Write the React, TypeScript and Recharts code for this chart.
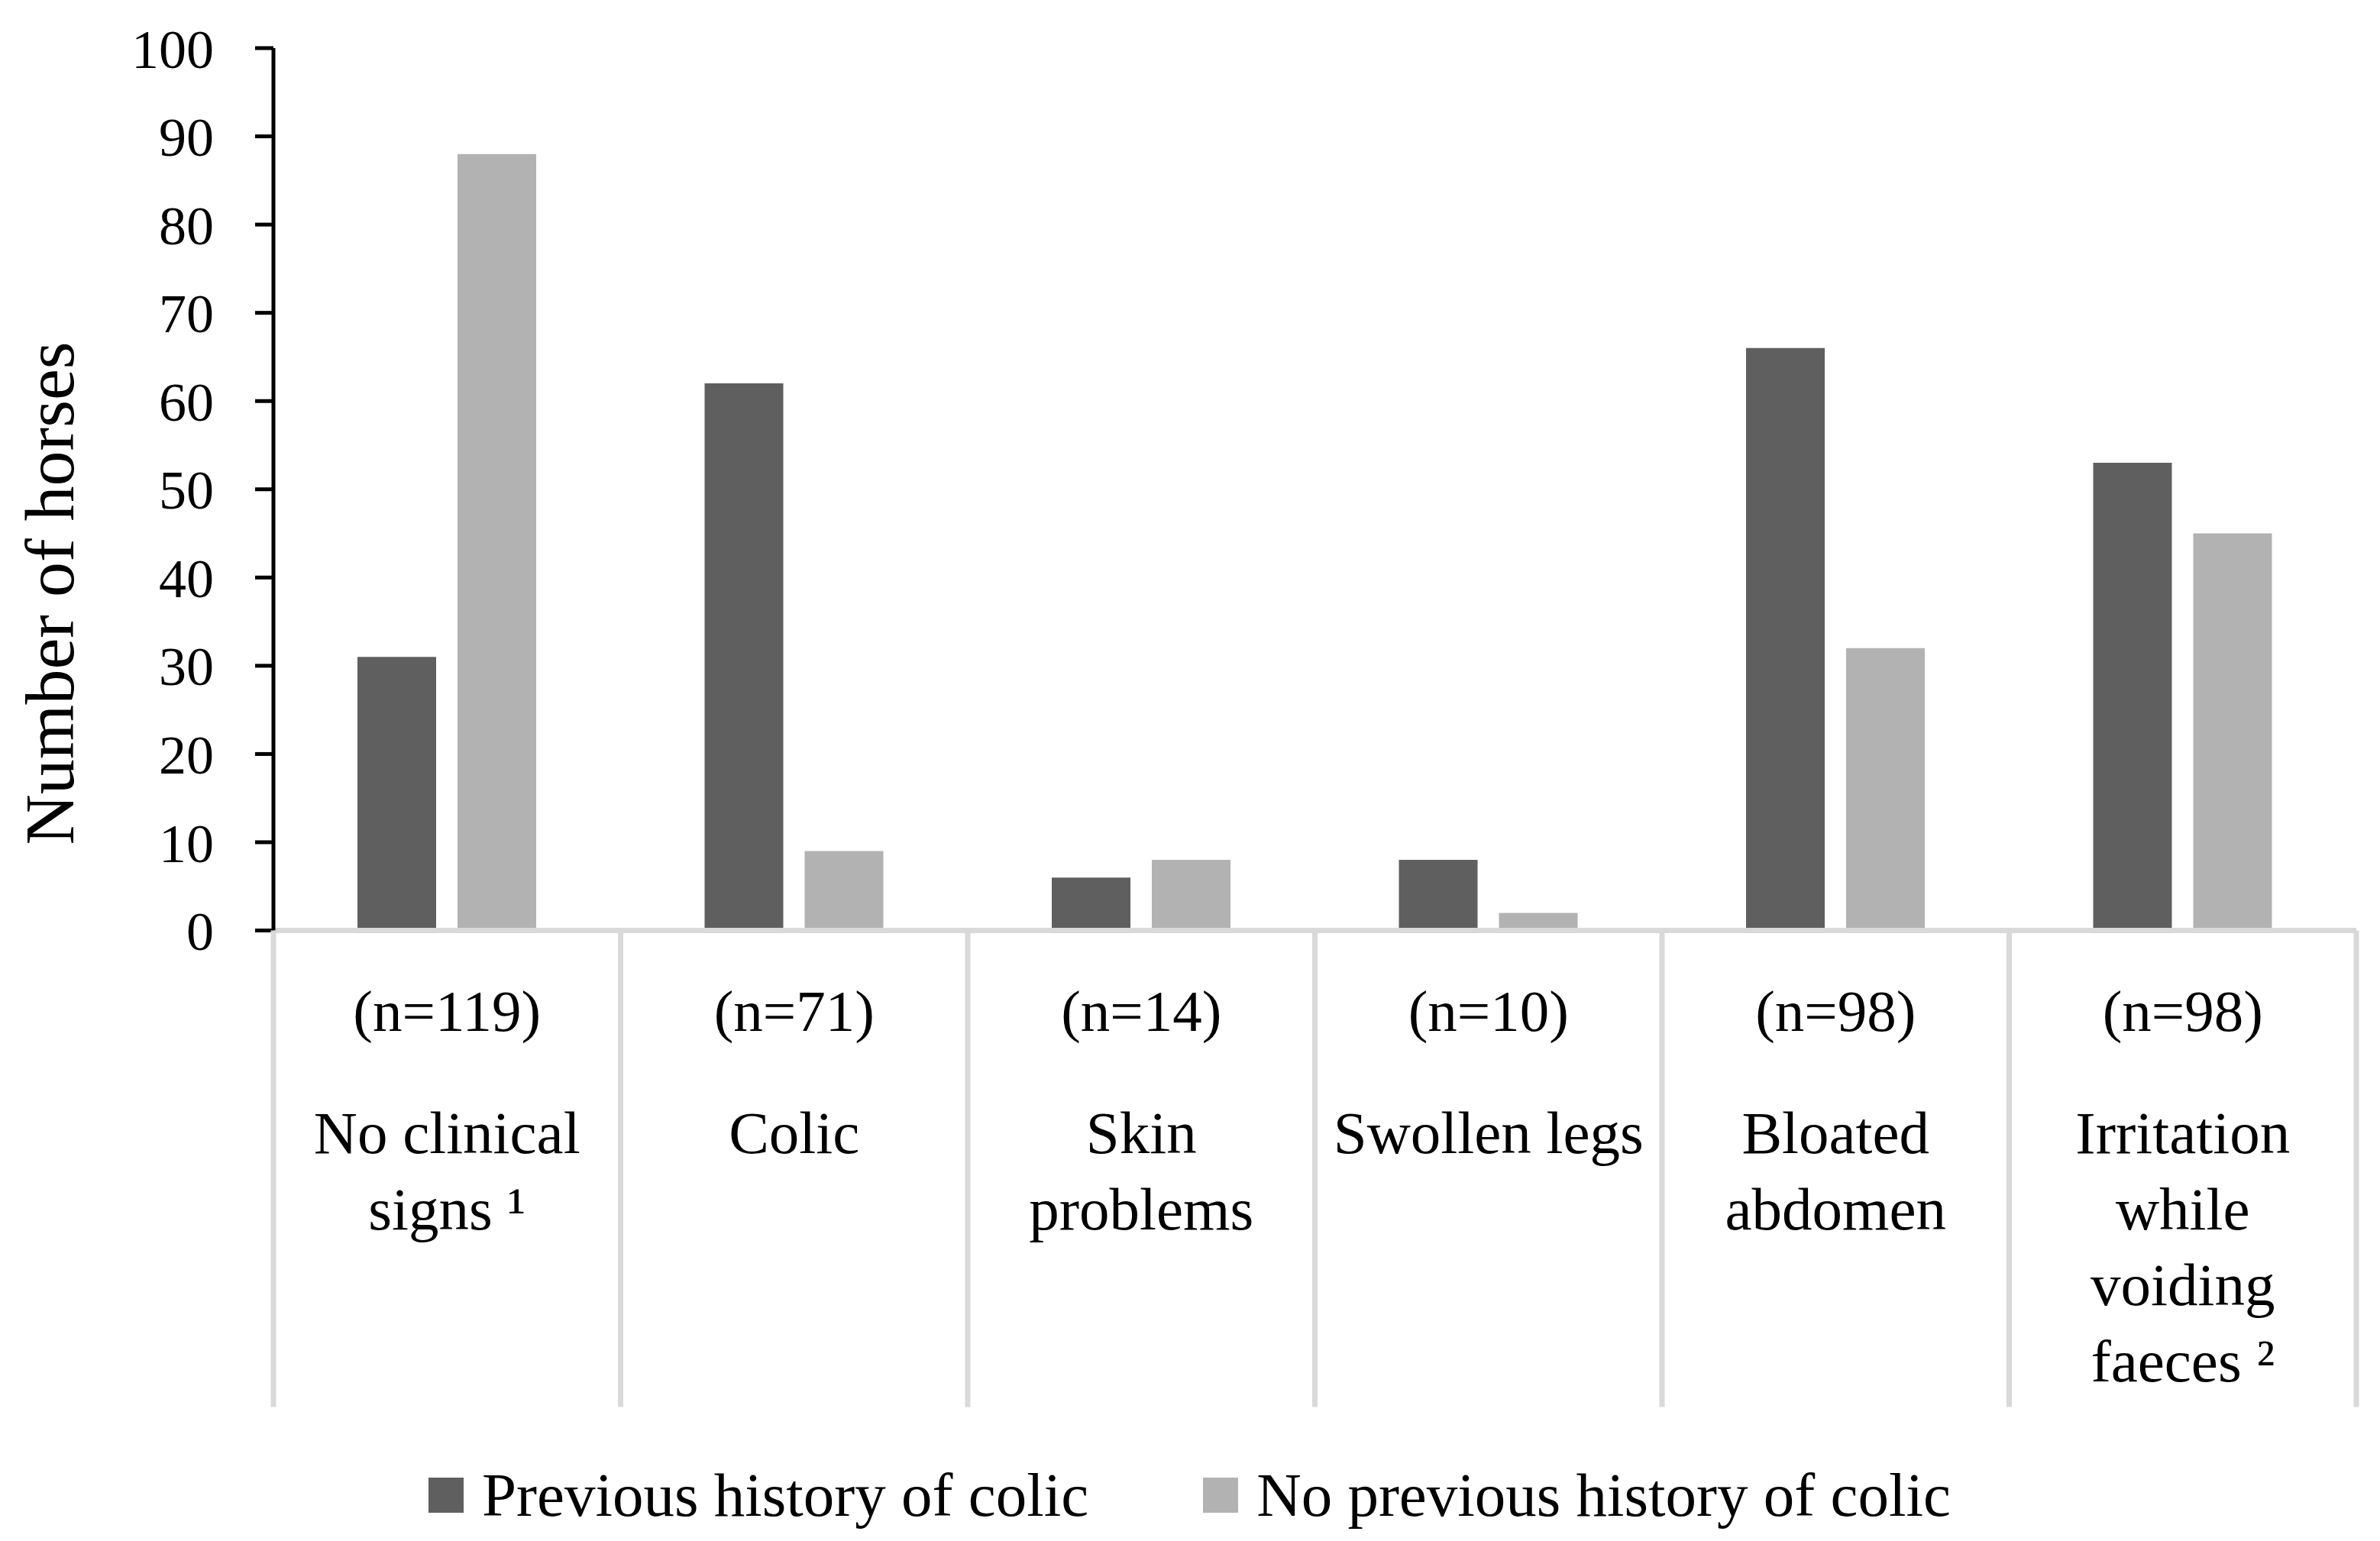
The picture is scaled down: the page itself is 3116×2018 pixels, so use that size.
import { BarChart, Bar, XAxis, YAxis, Legend } from 'recharts';

// category labels, wrapped the way the figure wraps them
const categoryLines: string[][] = [
  ['No clinical', 'signs ¹'],
  ['Colic'],
  ['Skin', 'problems'],
  ['Swollen legs'],
  ['Bloated', 'abdomen'],
  ['Irritation', 'while', 'voiding', 'faeces ²'],
];
const categoryCounts = ['(n=119)', '(n=71)', '(n=14)', '(n=10)', '(n=98)', '(n=98)'];

const previousColic = [31, 62, 6, 8, 66, 53];
const noPreviousColic = [88, 9, 8, 2, 32, 45];

const yTicks = [0, 10, 20, 30, 40, 50, 60, 70, 80, 90, 100];

const seriesNames = ['Previous history of colic', 'No previous history of colic'];
const seriesColors = ['#5f5f5f', '#b2b2b2'];

const data = categoryLines.map((lines, i) => ({
  category: lines.join(' '),
  previous: previousColic[i],
  noPrevious: noPreviousColic[i],
}));

const FONT = '"Liberation Serif", "Times New Roman", serif';
const W = 3100;
const H = 2002;
const PLOT_LEFT = 350;
const PLOT_RIGHT = 3077;
const BAND = (PLOT_RIGHT - PLOT_LEFT) / categoryLines.length;
const SEP_COLOR = '#d9d9d9';

const CategoryTick = (props: any) => {
  const { x, y, index } = props;
  const half = BAND / 2;
  const lines = categoryLines[index] || [];
  return (
    <g>
      <line x1={x - half} x2={x - half} y1={y} y2={y + 624} stroke={SEP_COLOR} strokeWidth={7} />
      {index === categoryLines.length - 1 && (
        <line x1={x + half} x2={x + half} y1={y} y2={y + 624} stroke={SEP_COLOR} strokeWidth={7} />
      )}
      <text x={x} y={y + 131.5} textAnchor="middle" fontFamily={FONT} fontSize={77} fill="#000">
        {categoryCounts[index]}
      </text>
      <text textAnchor="middle" fontFamily={FONT} fontSize={79} fill="#000">
        {lines.map((line, i) => (
          <tspan key={i} x={x} y={y + 291.5 + i * 99.5}>
            {line}
          </tspan>
        ))}
      </text>
    </g>
  );
};

const LegendContent = () => (
  <div
    style={{
      height: 100,
      display: 'flex',
      justifyContent: 'center',
      alignItems: 'center',
      paddingLeft: 22,
      fontFamily: FONT,
      fontSize: 81,
      color: '#000',
    }}
  >
    {seriesNames.map((name, i) => (
      <div key={name} style={{ display: 'flex', alignItems: 'center', marginRight: i === 0 ? 150 : 0 }}>
        <span style={{ display: 'inline-block', width: 46, height: 46, background: seriesColors[i], marginRight: 24 }} />
        <span>{name}</span>
      </div>
    ))}
  </div>
);

const YTitle = () => (
  <text
    x={88}
    y={769}
    transform="rotate(-90, 88, 769)"
    textAnchor="middle"
    fontFamily={FONT}
    fontSize={92}
    fill="#000"
  >
    Number of horses
  </text>
);

export default function App() {
  return (
    <div style={{ width: W, height: H, background: '#fff', fontFamily: FONT }}>
      <BarChart
        width={W}
        height={H}
        data={data}
        margin={{ top: 55, right: W - PLOT_RIGHT, left: 0, bottom: 2 }}
        barSize={103}
        barGap={28}
      >
        <XAxis
          dataKey="category"
          height={689.5}
          axisLine={{ stroke: SEP_COLOR, strokeWidth: 7 }}
          tickLine={false}
          tickSize={0}
          tickMargin={0}
          interval={0}
          tick={<CategoryTick />}
        />
        <YAxis
          width={PLOT_LEFT}
          domain={[0, 100]}
          ticks={yTicks}
          interval={0}
          axisLine={{ stroke: '#000', strokeWidth: 5 }}
          tickLine={{ stroke: '#000', strokeWidth: 5 }}
          tickSize={24}
          tickMargin={54}
          tick={{ fontFamily: FONT, fontSize: 72, fill: '#000' }}
          label={{ content: () => <YTitle /> }}
        />
        <Legend verticalAlign="bottom" height={100} content={() => <LegendContent />} />
        <Bar dataKey="previous" name={seriesNames[0]} fill={seriesColors[0]} isAnimationActive={false} />
        <Bar dataKey="noPrevious" name={seriesNames[1]} fill={seriesColors[1]} isAnimationActive={false} />
      </BarChart>
    </div>
  );
}
